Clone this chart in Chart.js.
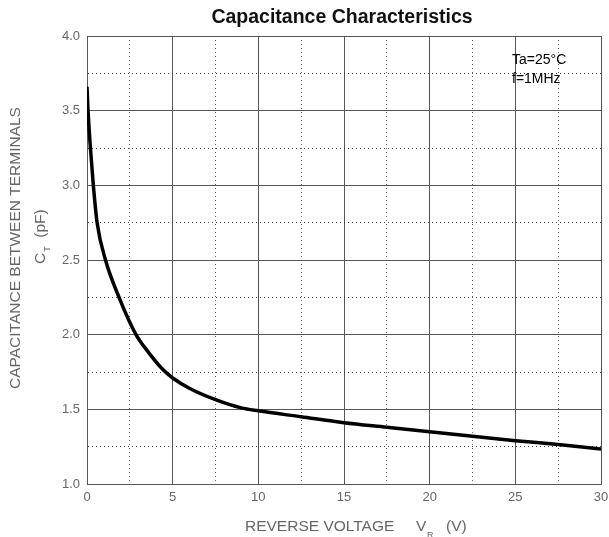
<!DOCTYPE html>
<html>
<head>
<meta charset="utf-8">
<script src="https://cdn.jsdelivr.net/npm/chart.js@4.4.1/dist/chart.umd.min.js"></script>
<style>
html,body{margin:0;padding:0;background:#fff;}
canvas{display:block;}
</style>
</head>
<body>
<canvas id="c" width="609" height="537"></canvas>
<script>
// ---- data ----
const voltage = [0, 0.06, 0.2, 0.37, 0.59, 1.08, 1.87, 2.86, 3.6, 4.4, 5, 6, 7.5, 9, 10, 12.5, 15, 17.5, 20, 22.5, 25, 27.5, 30];
const capacitance = [3.66, 3.5, 3.25, 3.0, 2.75, 2.5, 2.25, 2.0, 1.88, 1.77, 1.71, 1.64, 1.565, 1.51, 1.49, 1.45, 1.41, 1.38, 1.35, 1.32, 1.29, 1.265, 1.235];
const xTickLabels = ['0', '5', '10', '15', '20', '25', '30'];
const yTickLabels = ['1.0', '1.5', '2.0', '2.5', '3.0', '3.5', '4.0'];
const titleText = 'Capacitance Characteristics';
const yTitle = 'CAPACITANCE BETWEEN TERMINALS';
const xTitle = 'REVERSE VOLTAGE';
const notes = ['Ta=25\u00B0C', 'f=1MHz'];

const FONT = '"Liberation Sans", Arial, Helvetica, sans-serif';
const points = voltage.map((v, i) => ({x: v, y: capacitance[i]}));

function isMajor(v, step) { return Math.abs(v / step - Math.round(v / step)) < 1e-6; }

const textPlugin = {
  id: 'texts',
  afterDraw(chart) {
    const ctx = chart.ctx;
    ctx.save();
    // title
    ctx.fillStyle = '#111';
    ctx.font = 'bold 19.5px ' + FONT;
    ctx.textAlign = 'center';
    ctx.textBaseline = 'middle';
    ctx.fillText(titleText, 342, 18);

    // notes
    ctx.fillStyle = '#000';
    ctx.font = '14px ' + FONT;
    ctx.textAlign = 'left';
    ctx.textBaseline = 'alphabetic';
    ctx.fillText(notes[0], 512, 64);
    ctx.fillText(notes[1], 512, 83);

    // x axis title
    ctx.fillStyle = '#666';
    ctx.font = '15.5px ' + FONT;
    ctx.fillText(xTitle, 245, 531);
    ctx.fillText('V', 416, 531);
    ctx.fillText('(V)', 446, 531);
    ctx.font = '9px ' + FONT;
    ctx.fillText('R', 427, 538);

    // y axis titles (rotated)
    ctx.save();
    ctx.translate(20, 248);
    ctx.rotate(-Math.PI / 2);
    ctx.font = '15.5px ' + FONT;
    ctx.textAlign = 'center';
    ctx.fillText(yTitle, 0, 0);
    ctx.restore();

    ctx.save();
    ctx.translate(45, 264);
    ctx.rotate(-Math.PI / 2);
    ctx.textAlign = 'left';
    ctx.font = '15.5px ' + FONT;
    ctx.fillText('C', 0, 0);
    let w = ctx.measureText('C').width;
    ctx.font = '9px ' + FONT;
    ctx.fillText('T', w + 1, 5);
    w += ctx.measureText('T').width + 1;
    ctx.font = '15.5px ' + FONT;
    ctx.fillText('  (pF)', w, 0);
    ctx.restore();

    ctx.restore();
  }
};

new Chart(document.getElementById('c'), {
  type: 'scatter',
  data: {
    datasets: [{
      data: points,
      showLine: true,
      borderColor: '#000',
      borderWidth: 3.5,
      pointRadius: 0,
      cubicInterpolationMode: 'monotone',
      fill: false
    }]
  },
  options: {
    responsive: false,
    animation: false,
    devicePixelRatio: 1,
    layout: {padding: {top: 36, right: 8, left: 0, bottom: 0}},
    plugins: {legend: {display: false}, title: {display: false}, tooltip: {enabled: false}},
    scales: {
      x: {
        type: 'linear', min: 0, max: 30,
        afterFit(s) { s.height = 53; s.paddingLeft = 0; s.paddingRight = 0; },
        ticks: {
          stepSize: 2.5, autoSkip: false, maxRotation: 0, padding: 6,
          color: '#666', font: {family: FONT, size: 13},
          callback: v => isMajor(v, 5) ? xTickLabels[Math.round(v / 5)] : ''
        },
        grid: {
          drawTicks: false,
          color: c => (c.tick && !isMajor(c.tick.value, 5)) ? '#666' : '#555',
          lineWidth: 1
        },
        border: {display: true, color: '#555', width: 1,
          dash: c => (c.tick && !isMajor(c.tick.value, 5)) ? [1, 3] : []}
      },
      y: {
        type: 'linear', min: 1, max: 4,
        afterFit(s) { s.width = 87; s.paddingTop = 0; s.paddingBottom = 0; },
        ticks: {
          stepSize: 0.25, autoSkip: false, padding: 7,
          color: '#666', font: {family: FONT, size: 13},
          callback: v => isMajor(v, 0.5) ? yTickLabels[Math.round((v - 1) / 0.5)] : ''
        },
        grid: {
          drawTicks: false,
          color: c => (c.tick && !isMajor(c.tick.value, 0.5)) ? '#444' : '#555',
          lineWidth: 1
        },
        border: {display: true, color: '#555', width: 1,
          dash: c => (c.tick && !isMajor(c.tick.value, 0.5)) ? [1, 3] : []}
      }
    }
  },
  plugins: [textPlugin]
});
</script>
</body>
</html>
